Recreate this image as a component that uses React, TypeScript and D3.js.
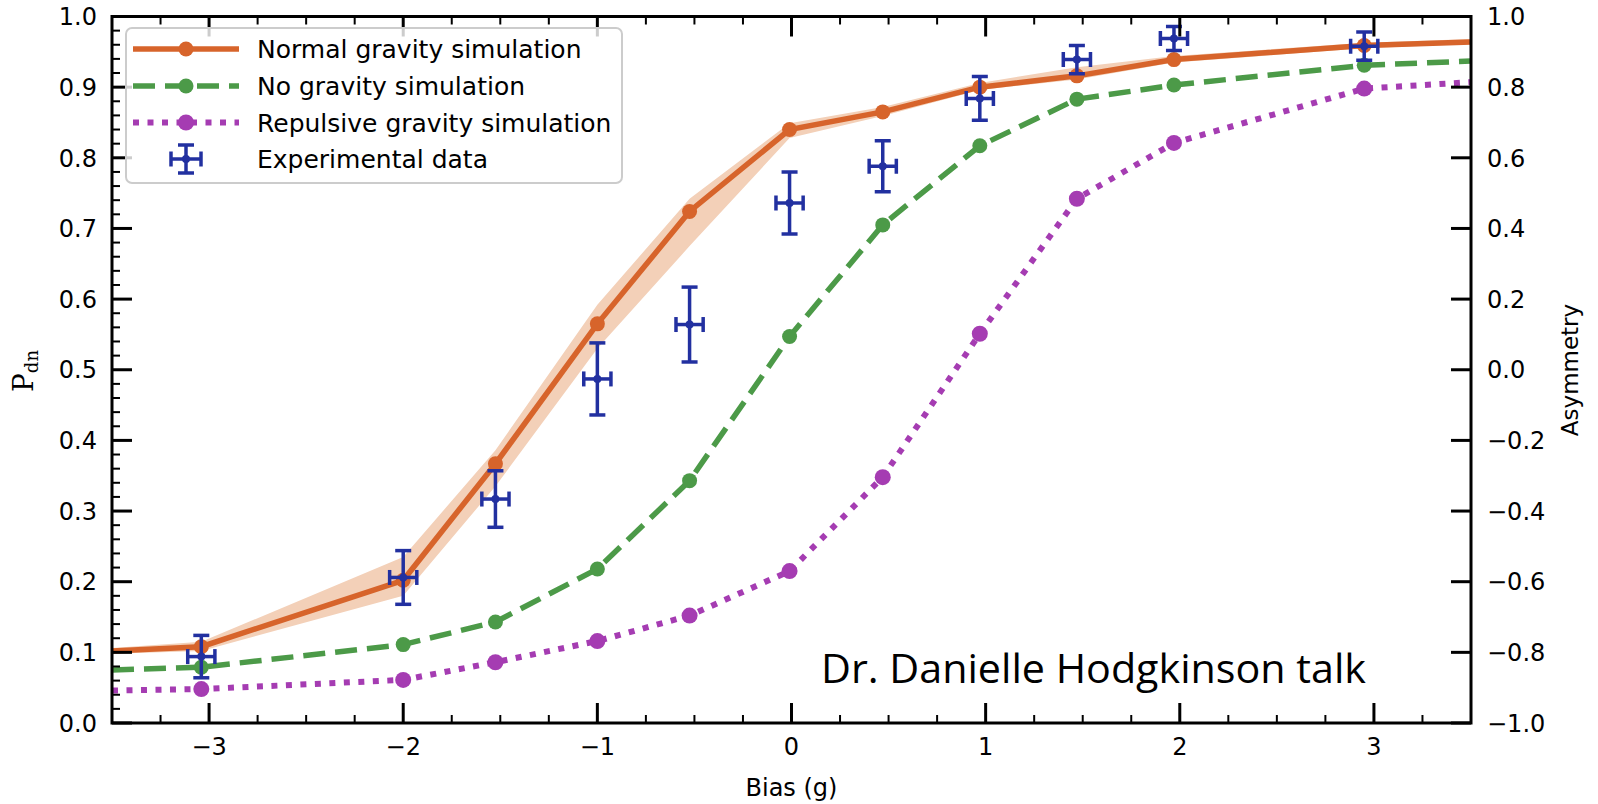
import React from "react";
import * as d3 from "d3";

// ---------- data ----------
const biasX = [-3.04, -2.0, -1.525, -1.0, -0.525, -0.01, 0.47, 0.97, 1.47, 1.97, 2.95];
const edgeX = [-3.5, 3.5];

const normalY = [0.108, 0.202, 0.367, 0.565, 0.724, 0.84, 0.865, 0.9, 0.916, 0.939, 0.959];
const normalEdgeY = [0.102, 0.964];
const normalLow = [0.102, 0.18, 0.335, 0.53, 0.675, 0.828, 0.859, 0.896, 0.911, 0.935, 0.955];
const normalHigh = [0.115, 0.235, 0.386, 0.592, 0.742, 0.849, 0.872, 0.906, 0.928, 0.944, 0.963];
const normalLowEdge = [0.098, 0.961];
const normalHighEdge = [0.106, 0.968];

const noGravY = [0.079, 0.111, 0.143, 0.218, 0.343, 0.547, 0.705, 0.817, 0.883, 0.903, 0.931];
const noGravEdgeY = [0.075, 0.937];

const repY = [0.048, 0.061, 0.086, 0.116, 0.152, 0.215, 0.348, 0.551, 0.742, 0.821, 0.898];
const repEdgeY = [0.046, 0.907];

const expY = [0.094, 0.206, 0.317, 0.487, 0.564, 0.736, 0.788, 0.884, 0.939, 0.969, 0.958];
const expYErr = [0.03, 0.038, 0.04, 0.051, 0.053, 0.044, 0.036, 0.031, 0.02, 0.017, 0.02];
const expXErr = [0.07, 0.07, 0.07, 0.07, 0.07, 0.07, 0.07, 0.07, 0.07, 0.07, 0.07];

const xTicks = [-3, -2, -1, 0, 1, 2, 3];
const yTicks = [0, 0.1, 0.2, 0.3, 0.4, 0.5, 0.6, 0.7, 0.8, 0.9, 1.0];
const y2Ticks = [-1, -0.8, -0.6, -0.4, -0.2, 0, 0.2, 0.4, 0.6, 0.8, 1.0];

const legendLabels = [
  "Normal gravity simulation",
  "No gravity simulation",
  "Repulsive gravity simulation",
  "Experimental data",
];

// ---------- style ----------
const W = 1598;
const H = 804;
const L = 112, R = 1471, T = 16.5, B = 723;
const ORANGE = "#d7642b";
const BAND = "#f3d0b8";
const GREEN = "#4c9a48";
const PURPLE = "#a53cb2";
const BLUE = "#2230a0";
const FONT = "DejaVu Sans, sans-serif";
const GREEN_DASH = "22 10";
const PURPLE_DASH = "6 8.5";

const fmtMinus = (s: string) => s.replace("-", "\u2212");

export default function App() {
  const x = d3.scaleLinear().domain([-3.5, 3.5]).range([L, R]);
  const y = d3.scaleLinear().domain([0, 1]).range([B, T]);
  const y2 = d3.scaleLinear().domain([-1, 1]).range([B, T]);

  const withEdges = (vals: number[], edges: number[]): [number, number][] => [
    [edgeX[0], edges[0]],
    ...vals.map((v, i) => [biasX[i], v] as [number, number]),
    [edgeX[1], edges[1]],
  ];

  const line = d3
    .line<[number, number]>()
    .x((d) => x(d[0]))
    .y((d) => y(d[1]));

  const bandPts = [
    { x: edgeX[0], lo: normalLowEdge[0], hi: normalHighEdge[0] },
    ...biasX.map((bx, i) => ({ x: bx, lo: normalLow[i], hi: normalHigh[i] })),
    { x: edgeX[1], lo: normalLowEdge[1], hi: normalHighEdge[1] },
  ];
  const area = d3
    .area<{ x: number; lo: number; hi: number }>()
    .x((d) => x(d.x))
    .y0((d) => y(d.lo))
    .y1((d) => y(d.hi));

  const xMinor = d3.range(-3.5, 3.5001, 0.25).filter((v) => Math.abs(v - Math.round(v)) > 1e-6);
  const yMinor = d3.range(0, 1.0001, 0.02).filter((v) => Math.abs(v * 10 - Math.round(v * 10)) > 1e-6);

  const MAJ = 20, MIN = 8;

  const errorBar = (cx: number, cy: number, key: string | number, ex: number, ey: number) => {
    const capV = 8, capH = 7.5;
    return (
      <g key={key} stroke={BLUE} strokeWidth={3.5} fill="none">
        <line x1={cx} x2={cx} y1={cy - ey} y2={cy + ey} />
        <line x1={cx - capV} x2={cx + capV} y1={cy - ey} y2={cy - ey} />
        <line x1={cx - capV} x2={cx + capV} y1={cy + ey} y2={cy + ey} />
        <line x1={cx - ex} x2={cx + ex} y1={cy} y2={cy} />
        <line x1={cx - ex} x2={cx - ex} y1={cy - capH} y2={cy + capH} />
        <line x1={cx + ex} x2={cx + ex} y1={cy - capH} y2={cy + capH} />
        <circle cx={cx} cy={cy} r={4} fill={BLUE} stroke="none" />
      </g>
    );
  };

  const legendRows = [49, 86, 122.5, 159];
  const hx0 = 133, hx1 = 239, hm = 186;

  return (
    <div style={{ position: "absolute", left: 0, top: 0 }}>
      <svg width={W} height={H} viewBox={`0 0 ${W} ${H}`} style={{ display: "block", background: "#fff" }}>
        <defs>
          <clipPath id="plot">
            <rect x={L} y={T} width={R - L} height={B - T} />
          </clipPath>
        </defs>
        <rect x={0} y={0} width={W} height={H} fill="#fff" />

        <g clipPath="url(#plot)">
          <path d={area(bandPts) || ""} fill={BAND} />
          <path d={line(withEdges(normalY, normalEdgeY)) || ""} fill="none" stroke={ORANGE} strokeWidth={5.5} />
          <path
            d={line(withEdges(noGravY, noGravEdgeY)) || ""}
            fill="none"
            stroke={GREEN}
            strokeWidth={5.5}
            strokeDasharray={GREEN_DASH}
          />
          <path
            d={line(withEdges(repY, repEdgeY)) || ""}
            fill="none"
            stroke={PURPLE}
            strokeWidth={6}
            strokeDasharray={PURPLE_DASH}
          />
          {normalY.map((v, i) => (
            <circle key={"o" + i} cx={x(biasX[i])} cy={y(v)} r={7.5} fill={ORANGE} />
          ))}
          {noGravY.map((v, i) => (
            <circle key={"g" + i} cx={x(biasX[i])} cy={y(v)} r={7.5} fill={GREEN} />
          ))}
          {repY.map((v, i) => (
            <circle key={"p" + i} cx={x(biasX[i])} cy={y(v)} r={8} fill={PURPLE} />
          ))}
          {expY.map((v, i) =>
            errorBar(
              x(biasX[i]),
              y(v),
              "e" + i,
              x(biasX[i] + expXErr[i]) - x(biasX[i]),
              y(0) - y(expYErr[i])
            )
          )}
        </g>

        {/* ticks */}
        <g stroke="#000">
          {xTicks.map((t) => (
            <g key={"xt" + t} strokeWidth={3}>
              <line x1={x(t)} x2={x(t)} y1={B} y2={B - MAJ} />
              <line x1={x(t)} x2={x(t)} y1={T} y2={T + MAJ} />
            </g>
          ))}
          {xMinor.map((t) => (
            <g key={"xm" + t} strokeWidth={2}>
              <line x1={x(t)} x2={x(t)} y1={B} y2={B - MIN} />
              <line x1={x(t)} x2={x(t)} y1={T} y2={T + MIN} />
            </g>
          ))}
          {yTicks.map((t) => (
            <line key={"yt" + t} x1={L} x2={L + MAJ} y1={y(t)} y2={y(t)} strokeWidth={3} />
          ))}
          {yMinor.map((t) => (
            <line key={"ym" + t} x1={L} x2={L + MIN} y1={y(t)} y2={y(t)} strokeWidth={2} />
          ))}
          {y2Ticks.map((t) => (
            <line key={"y2t" + t} x1={R} x2={R - MAJ} y1={y2(t)} y2={y2(t)} strokeWidth={3} />
          ))}
        </g>

        {/* frame */}
        <rect x={L} y={T} width={R - L} height={B - T} fill="none" stroke="#000" strokeWidth={3} />

        {/* tick labels */}
        <g fontFamily={FONT} fontSize={24} fill="#000">
          {xTicks.map((t) => (
            <text key={"xl" + t} x={x(t)} y={755} textAnchor="middle">
              {fmtMinus(String(t))}
            </text>
          ))}
          {yTicks.map((t) => (
            <text key={"yl" + t} x={97} y={y(t) + 8.7} textAnchor="end">
              {t.toFixed(1)}
            </text>
          ))}
          {y2Ticks.map((t) => (
            <text key={"y2l" + t} x={1487} y={y2(t) + 8.7} textAnchor="start">
              {fmtMinus(t.toFixed(1))}
            </text>
          ))}
          <text x={(L + R) / 2} y={796} textAnchor="middle">
            Bias (g)
          </text>
          <text transform="translate(1578,370) rotate(-90)" textAnchor="middle" fontSize={23}>
            Asymmetry
          </text>
        </g>
        <text transform="translate(33,371) rotate(-90)" textAnchor="middle" fontFamily="DejaVu Serif, serif" fill="#000">
          <tspan fontSize={28}>P</tspan>
          <tspan fontSize={18} dy={5}>dn</tspan>
        </text>

        {/* legend */}
        <g>
          <rect x={126} y={28} width={496} height={155} rx={6} ry={6} fill="#fff" fillOpacity={0.8} stroke="#cccccc" strokeWidth={2} />
          <line x1={hx0} x2={hx1} y1={legendRows[0]} y2={legendRows[0]} stroke={ORANGE} strokeWidth={5.5} />
          <circle cx={hm} cy={legendRows[0]} r={7.5} fill={ORANGE} />
          <line x1={hx0} x2={hx1} y1={legendRows[1]} y2={legendRows[1]} stroke={GREEN} strokeWidth={5.5} strokeDasharray={GREEN_DASH} />
          <circle cx={hm} cy={legendRows[1]} r={7.5} fill={GREEN} />
          <line x1={hx0} x2={hx1} y1={legendRows[2]} y2={legendRows[2]} stroke={PURPLE} strokeWidth={6} strokeDasharray={PURPLE_DASH} />
          <circle cx={hm} cy={legendRows[2]} r={8} fill={PURPLE} />
          {errorBar(hm, legendRows[3], "leg", 15, 14)}
          <g fontFamily={FONT} fontSize={25} fill="#000">
            {legendLabels.map((s, i) => (
              <text key={s} x={257} y={legendRows[i] + 9}>
                {s}
              </text>
            ))}
          </g>
        </g>

        <text x={821} y={683} fontFamily="'Open Sans', Lato, sans-serif" fontSize={40} textLength={545} lengthAdjust="spacingAndGlyphs" fill="#000">
          Dr. Danielle Hodgkinson talk
        </text>
      </svg>
    </div>
  );
}
